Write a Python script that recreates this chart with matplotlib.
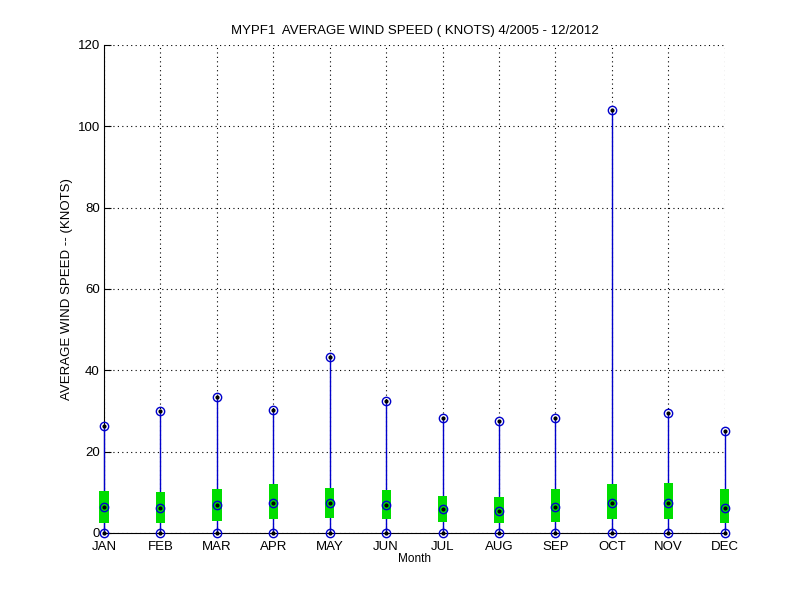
import matplotlib
matplotlib.use('Agg')
import matplotlib.pyplot as plt

months = ['JAN', 'FEB', 'MAR', 'APR', 'MAY', 'JUN',
          'JUL', 'AUG', 'SEP', 'OCT', 'NOV', 'DEC']
max_speed = [26.3, 30.0, 33.4, 30.2, 43.3, 32.5, 28.2, 27.5, 28.2, 104.0, 29.5, 25.1]
mean_speed = [6.3, 6.1, 6.8, 7.3, 7.3, 6.8, 5.9, 5.4, 6.4, 7.3, 7.3, 6.1]
box_top = [10.3, 10.1, 10.8, 12.0, 11.1, 10.6, 9.1, 8.9, 10.8, 12.0, 12.3, 10.8]
box_bottom = [2.5, 2.5, 3.0, 3.5, 3.8, 3.5, 2.8, 2.5, 2.8, 3.5, 3.5, 2.5]
min_speed = [0] * 12

plt.rcParams['font.family'] = ['Liberation Sans', 'DejaVu Sans']
plt.rcParams['font.size'] = 8.5

fig = plt.figure(figsize=(8, 6), dpi=100)
ax = fig.add_axes([0.13, 0.1117, 0.776, 0.8133])

x = list(range(1, 13))

# whiskers from min to max (above the spines so JAN shows)
ax.vlines(x, min_speed, max_speed, colors='#0000cc', linewidth=1, zorder=2.6,
          clip_on=False)

# green boxes
heights = [t - b for t, b in zip(box_top, box_bottom)]
ax.bar(x, heights, bottom=box_bottom, width=0.165, color='#00dd00',
       edgecolor='none', zorder=3, clip_on=False)

# markers
for vals in (max_speed, mean_speed, min_speed):
    ax.plot(x, vals, 'o', markersize=6, markerfacecolor='none',
            markeredgecolor='#0000cc', markeredgewidth=1, zorder=4, clip_on=False)
    ax.plot(x, vals, '.', markersize=4, color='black', zorder=5, clip_on=False)

ax.set_xlim(1, 12)
ax.set_ylim(0, 120)
ax.set_xticks(x)
ax.set_xticklabels(months)
ax.set_yticks(range(0, 121, 20))
ax.tick_params(direction='in', length=5, width=0.8, labelsize=9.5)
ax.tick_params(axis='x', pad=6)
ax.tick_params(axis='y', pad=3)

ax.grid(True, linestyle=(0, (1, 3)), color='black', linewidth=0.8)
ax.set_axisbelow(True)
ax.spines['top'].set_visible(False)
ax.spines['right'].set_visible(False)

ax.set_title('MYPF1  AVERAGE WIND SPEED ( KNOTS) 4/2005 - 12/2012', fontsize=9.5, pad=8)
ax.set_xlabel('Month', fontsize=8.5, labelpad=0)
ax.set_ylabel('AVERAGE WIND SPEED -- (KNOTS)', fontsize=9.5, labelpad=3)

fig.savefig('out.png', dpi=100)
